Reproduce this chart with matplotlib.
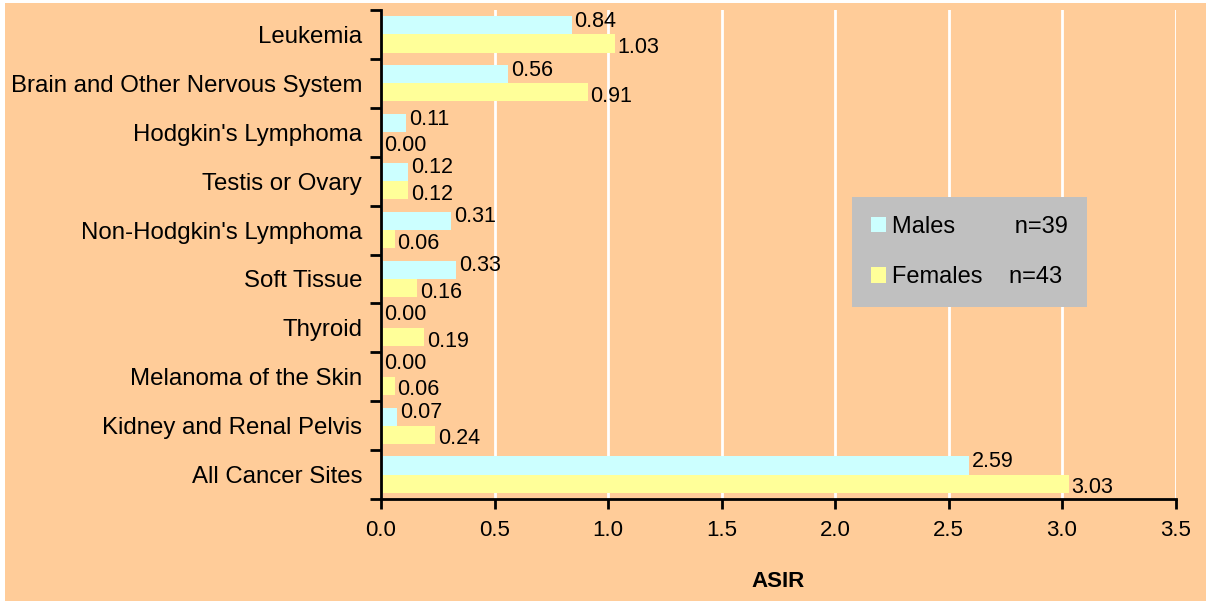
import matplotlib
matplotlib.use("Agg")
import matplotlib.pyplot as plt
import numpy as np
from matplotlib.patches import Patch, Rectangle

plt.rcParams['font.family'] = ['Liberation Sans', 'DejaVu Sans']

sites = ["Leukemia", "Brain and Other Nervous System", "Hodgkin's Lymphoma",
         "Testis or Ovary", "Non-Hodgkin's Lymphoma", "Soft Tissue", "Thyroid",
         "Melanoma of the Skin", "Kidney and Renal Pelvis", "All Cancer Sites"]
males = [0.84, 0.56, 0.11, 0.12, 0.31, 0.33, 0.00, 0.00, 0.07, 2.59]
females = [1.03, 0.91, 0.00, 0.12, 0.06, 0.16, 0.19, 0.06, 0.24, 3.03]
legend_labels = ["Males         n=39", "Females    n=43"]

bg = "#FFCC99"
male_col = "#CCFFFF"
female_col = "#FFFF99"

fig = plt.figure(figsize=(12.06, 6.01), dpi=100, facecolor="white")
fig.patches.append(Rectangle((5 / 1206, 0), 1, 1 - 3 / 601, transform=fig.transFigure,
                             facecolor=bg, edgecolor="none", zorder=-10))
ax = fig.add_axes([381 / 1206, 1 - 499 / 601, 794.5 / 1206, 489 / 601])
ax.set_facecolor(bg)

y = np.arange(len(sites))
h = 0.37
ax.barh(y - h / 2, males, height=h, color=male_col, zorder=2)
ax.barh(y + h / 2, females, height=h, color=female_col, zorder=2)

for yy, v in zip(y, males):
    ax.annotate(f"{v:.2f}", (v, yy - h / 2), xytext=(2, 3), textcoords="offset points",
                ha="left", va="center", fontsize=15.5)
for yy, v in zip(y, females):
    ax.annotate(f"{v:.2f}", (v, yy + h / 2), xytext=(2, -3), textcoords="offset points",
                ha="left", va="center", fontsize=15.5)

ax.set_ylim(len(sites) - 0.5, -0.5)
ax.set_xlim(0, 3.5)
ticks = np.arange(0, 3.51, 0.5)
ax.set_xticks(ticks)
ax.set_xticklabels([f"{t:.1f}" for t in ticks], fontsize=16)
ax.xaxis.grid(True, color="white", linewidth=2, zorder=1)
ax.set_axisbelow(True)

# category labels sit between the boundary ticks
ax.set_yticks(np.arange(-0.5, len(sites)), minor=False)
ax.set_yticklabels([])
ax.set_yticks(y, minor=True)
ax.set_yticklabels(sites, minor=True, fontsize=17.3)
ax.tick_params(axis="y", which="minor", length=0, pad=13.5)
ax.tick_params(axis="y", which="major", length=8, width=2, direction="out")
ax.tick_params(axis="x", length=7, width=2, direction="out", pad=8)

for s in ["top", "right"]:
    ax.spines[s].set_visible(False)
for s in ["left", "bottom"]:
    ax.spines[s].set_linewidth(2)

ax.set_xlabel("ASIR", fontsize=16, fontweight="bold", labelpad=22)

handles = [Patch(facecolor=male_col), Patch(facecolor=female_col)]
leg = ax.legend(handles, legend_labels, loc="upper left",
                bbox_to_anchor=(852 / 1206, 1 - 197 / 601), bbox_transform=fig.transFigure,
                fontsize=17, frameon=True, fancybox=False, framealpha=1,
                facecolor="#C0C0C0", edgecolor="none", handlelength=0.65, handleheight=0.65,
                handletextpad=0.25, labelspacing=1.2, borderpad=0.8, borderaxespad=0)
leg.get_frame().set_linewidth(0)

fig.savefig("out.png", dpi=100, facecolor=fig.get_facecolor())
